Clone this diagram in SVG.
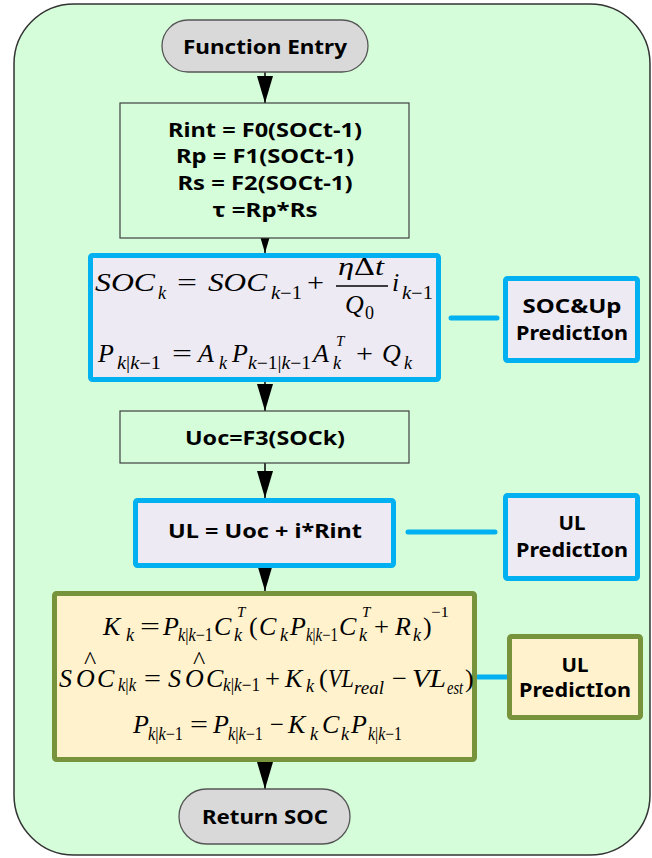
<svg xmlns="http://www.w3.org/2000/svg" width="652" height="858" viewBox="0 0 652 858">
<defs>
<marker id="ah" markerUnits="userSpaceOnUse" markerWidth="28" markerHeight="18" refX="27" refY="8" orient="auto">
<path d="M0,0 L27,8 L0,16 Z" fill="#000"/>
</marker>
<style>
.lbl{font-family:"Noto Sans","Liberation Sans",sans-serif;font-weight:bold;font-size:19px;fill:#000;text-anchor:middle}
.m{font-family:"Liberation Serif","Times New Roman",serif;font-style:italic;font-size:26px;fill:#000}
.s{font-size:18px}
.t{font-size:15px}
.u{font-style:normal}
.pill{fill:#D9D9D9;stroke:#555;stroke-width:1.3}
.plain{fill:#D5FDDA;stroke:#404040;stroke-width:1.2}
.blue{fill:#EDEAF3;stroke:#00B0F0;stroke-width:5}
.olive{fill:#FFF2CC;stroke:#77933C;stroke-width:5}
.arr{stroke:#000;stroke-width:1.5;fill:none;marker-end:url(#ah)}
.side{stroke:#00B0F0;stroke-width:5;stroke-linecap:round;fill:none}
</style>
</defs>
<rect id="frame" x="14" y="4" width="636" height="851" rx="60" fill="#D5FDDA" stroke="#333" stroke-width="1.5"/>

<g id="connectors">
<line class="arr" x1="265" y1="72" x2="265" y2="103"/>
<line class="arr" x1="265" y1="226" x2="265" y2="253"/>
<line class="arr" x1="265" y1="382" x2="265" y2="411"/>
<line class="arr" x1="265" y1="463" x2="265" y2="498"/>
<line class="arr" x1="265" y1="565" x2="265" y2="591"/>
<line class="arr" x1="265" y1="760" x2="265" y2="789"/>
<line class="side" x1="451" y1="318" x2="497" y2="318"/>
<line class="side" x1="408" y1="532" x2="495" y2="532"/>
<line class="side" x1="478" y1="677" x2="507" y2="677"/>
</g>

<g id="entry">
<rect class="pill" x="162" y="20" width="206" height="52" rx="26"/>
<text class="lbl" x="265" y="54" font-size="20" textLength="164" lengthAdjust="spacingAndGlyphs">Function Entry</text>
</g>

<g id="params">
<rect class="plain" x="120" y="103" width="289" height="135"/>
<text class="lbl" x="265" y="137" textLength="194" lengthAdjust="spacingAndGlyphs">Rint = F0(SOCt-1)</text>
<text class="lbl" x="265" y="163" textLength="178" lengthAdjust="spacingAndGlyphs">Rp = F1(SOCt-1)</text>
<text class="lbl" x="265" y="190" textLength="175" lengthAdjust="spacingAndGlyphs">Rs = F2(SOCt-1)</text>
<text class="lbl" x="265" y="217" textLength="105" lengthAdjust="spacingAndGlyphs">τ =Rp*Rs</text>
</g>

<g id="predict">
<rect class="blue" x="90.5" y="255.5" width="348" height="124" rx="2"/>
<text class="m" x="95" y="291" textLength="60" lengthAdjust="spacingAndGlyphs">SOC</text>
<text class="m s" x="158" y="299">k</text>
<text class="m u" x="177" y="291" textLength="20" lengthAdjust="spacingAndGlyphs">=</text>
<text class="m" x="208" y="291" textLength="59" lengthAdjust="spacingAndGlyphs">SOC</text>
<text class="m s" x="271" y="299" textLength="31" lengthAdjust="spacingAndGlyphs">k<tspan class="u">−1</tspan></text>
<text class="m u" x="307" y="291" textLength="17" lengthAdjust="spacingAndGlyphs">+</text>
<text class="m" x="338" y="275" textLength="46" lengthAdjust="spacingAndGlyphs">η<tspan class="u">Δ</tspan>t</text>
<line x1="336" y1="286" x2="388" y2="286" stroke="#000" stroke-width="1.3"/>
<text class="m" x="345" y="313">Q</text>
<text class="m s u" x="365" y="319">0</text>
<text class="m" x="392" y="291">i</text>
<text class="m s" x="402" y="299" textLength="31" lengthAdjust="spacingAndGlyphs">k<tspan class="u">−1</tspan></text>

<text class="m" x="98" y="362">P</text>
<text class="m s" x="117" y="369" textLength="44" lengthAdjust="spacingAndGlyphs">k<tspan class="u">|</tspan>k<tspan class="u">−1</tspan></text>
<text class="m u" x="172" y="362" textLength="20" lengthAdjust="spacingAndGlyphs">=</text>
<text class="m" x="198" y="362">A</text>
<text class="m s" x="219" y="369">k</text>
<text class="m" x="232" y="362">P</text>
<text class="m s" x="248" y="369" textLength="63" lengthAdjust="spacingAndGlyphs">k<tspan class="u">−1|</tspan>k<tspan class="u">−1</tspan></text>
<text class="m" x="313" y="362">A</text>
<text class="m t" x="336" y="346">T</text>
<text class="m s" x="333" y="369">k</text>
<text class="m u" x="356" y="362" textLength="17" lengthAdjust="spacingAndGlyphs">+</text>
<text class="m" x="382" y="362">Q</text>
<text class="m s" x="404" y="369">k</text>
</g>

<g id="soc-up">
<rect class="blue" x="505.5" y="278.5" width="132" height="82" rx="2"/>
<text class="lbl" x="572" y="313" textLength="99" lengthAdjust="spacingAndGlyphs">SOC&amp;Up</text>
<text class="lbl" x="572" y="340" textLength="112" lengthAdjust="spacingAndGlyphs">PredictIon</text>
</g>

<g id="uoc">
<rect class="plain" x="120" y="411" width="289" height="52"/>
<text class="lbl" x="265" y="445" textLength="160" lengthAdjust="spacingAndGlyphs">Uoc=F3(SOCk)</text>
</g>

<g id="ul">
<rect class="blue" x="135.5" y="500.5" width="258" height="65" rx="2"/>
<text class="lbl" x="265" y="538" textLength="194" lengthAdjust="spacingAndGlyphs">UL = Uoc + i*Rint</text>
</g>

<g id="ul-pred1">
<rect class="blue" x="505.5" y="495.5" width="132" height="83" rx="2"/>
<text class="lbl" x="572" y="530" textLength="27" lengthAdjust="spacingAndGlyphs">UL</text>
<text class="lbl" x="572" y="557" textLength="112" lengthAdjust="spacingAndGlyphs">PredictIon</text>
</g>

<g id="update">
<rect class="olive" x="54.5" y="593.5" width="420" height="166" rx="2"/>
<text class="m" x="103" y="635">K</text>
<text class="m s" x="126" y="641">k</text>
<text class="m u" x="140" y="635" textLength="20" lengthAdjust="spacingAndGlyphs">=</text>
<text class="m" x="163" y="635">P</text>
<text class="m s" x="178" y="641" textLength="35" lengthAdjust="spacingAndGlyphs">k<tspan class="u">|</tspan>k<tspan class="u">−1</tspan></text>
<text class="m" x="214" y="635">C</text>
<text class="m t" x="237" y="617">T</text>
<text class="m s" x="234" y="641">k</text>
<text class="m u" x="249" y="635">(</text>
<text class="m" x="259" y="635">C</text>
<text class="m s" x="280" y="641">k</text>
<text class="m" x="290" y="635">P</text>
<text class="m s" x="306" y="641" textLength="32" lengthAdjust="spacingAndGlyphs">k<tspan class="u">|</tspan>k<tspan class="u">−1</tspan></text>
<text class="m" x="339" y="635">C</text>
<text class="m t" x="362" y="617">T</text>
<text class="m s" x="359" y="641">k</text>
<text class="m u" x="374" y="635" textLength="15" lengthAdjust="spacingAndGlyphs">+</text>
<text class="m" x="395" y="635">R</text>
<text class="m s" x="413" y="641">k</text>
<text class="m u" x="423" y="635">)</text>
<text class="m t u" x="431" y="617" textLength="18" lengthAdjust="spacingAndGlyphs">−1</text>

<text class="m" x="59" y="687">S</text>
<text class="m" x="76" y="687">O</text>
<text class="m u" x="84" y="669" font-size="17">^</text>
<text class="m" x="97" y="687">C</text>
<text class="m s" x="118" y="691" textLength="18" lengthAdjust="spacingAndGlyphs">k<tspan class="u">|</tspan>k</text>
<text class="m u" x="144" y="687" textLength="17" lengthAdjust="spacingAndGlyphs">=</text>
<text class="m" x="168" y="687">S</text>
<text class="m" x="185" y="687">O</text>
<text class="m u" x="193" y="669" font-size="17">^</text>
<text class="m" x="206" y="687">C</text>
<text class="m s" x="223" y="691" textLength="37" lengthAdjust="spacingAndGlyphs">k<tspan class="u">|</tspan>k<tspan class="u">−1</tspan></text>
<text class="m u" x="265" y="687" textLength="15" lengthAdjust="spacingAndGlyphs">+</text>
<text class="m" x="285" y="687">K</text>
<text class="m s" x="306" y="692">k</text>
<text class="m u" x="319" y="687">(</text>
<text class="m" x="328" y="687" textLength="26" lengthAdjust="spacingAndGlyphs">VL</text>
<text class="m s" x="354" y="694" textLength="30" lengthAdjust="spacingAndGlyphs">real</text>
<text class="m u" x="392" y="687" textLength="15" lengthAdjust="spacingAndGlyphs">−</text>
<text class="m" x="412" y="687" textLength="34" lengthAdjust="spacingAndGlyphs">VL</text>
<text class="m s" x="447" y="694" textLength="16" lengthAdjust="spacingAndGlyphs">est</text>
<text class="m u" x="465" y="687">)</text>

<text class="m" x="133" y="733">P</text>
<text class="m s" x="148" y="740" textLength="35" lengthAdjust="spacingAndGlyphs">k<tspan class="u">|</tspan>k<tspan class="u">−1</tspan></text>
<text class="m u" x="190" y="733" textLength="18" lengthAdjust="spacingAndGlyphs">=</text>
<text class="m" x="213" y="733">P</text>
<text class="m s" x="228" y="740" textLength="35" lengthAdjust="spacingAndGlyphs">k<tspan class="u">|</tspan>k<tspan class="u">−1</tspan></text>
<text class="m u" x="270" y="733" textLength="14" lengthAdjust="spacingAndGlyphs">−</text>
<text class="m" x="288" y="733">K</text>
<text class="m s" x="310" y="740">k</text>
<text class="m" x="322" y="733">C</text>
<text class="m s" x="341" y="740">k</text>
<text class="m" x="351" y="733">P</text>
<text class="m s" x="368" y="740" textLength="34" lengthAdjust="spacingAndGlyphs">k<tspan class="u">|</tspan>k<tspan class="u">−1</tspan></text>
</g>

<g id="ul-pred2">
<rect class="olive" x="509.5" y="636.5" width="131" height="81" rx="2"/>
<text class="lbl" x="575" y="672" textLength="27" lengthAdjust="spacingAndGlyphs">UL</text>
<text class="lbl" x="575" y="697" textLength="112" lengthAdjust="spacingAndGlyphs">PredictIon</text>
</g>

<g id="return">
<rect class="pill" x="179" y="789" width="171" height="55" rx="27.5"/>
<text class="lbl" x="265" y="824" font-size="20" textLength="126" lengthAdjust="spacingAndGlyphs">Return SOC</text>
</g>
</svg>
